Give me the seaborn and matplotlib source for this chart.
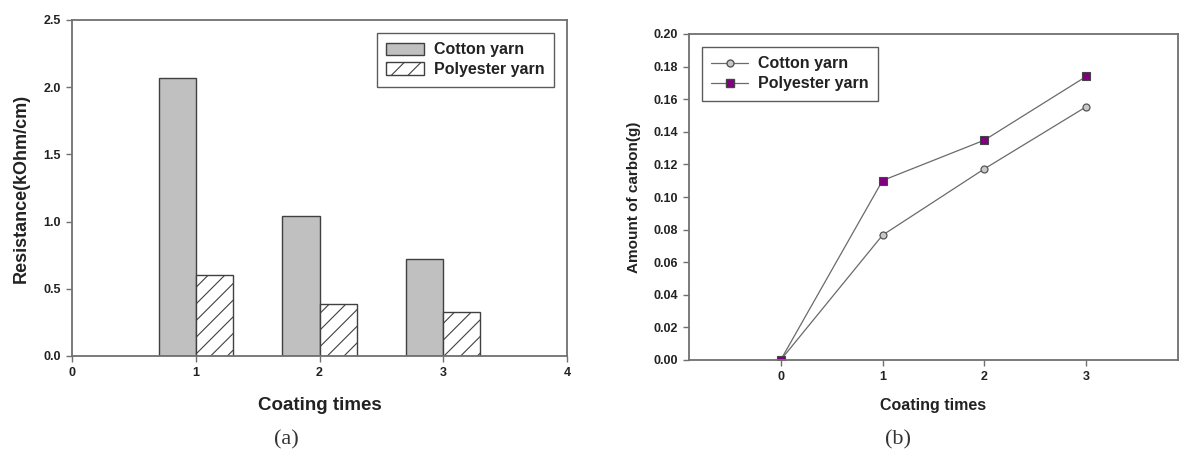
import numpy as np
import pandas as pd
import matplotlib
matplotlib.use("Agg")
import matplotlib.pyplot as plt
import seaborn as sns
from matplotlib.patches import Patch
from matplotlib.lines import Line2D

# data
coating = [1, 2, 3]
cotton_res = [2.07, 1.04, 0.72]
poly_res = [0.60, 0.385, 0.325]

coating_b = [0, 1, 2, 3]
cotton_carbon = [0.0, 0.0766, 0.1173, 0.1554]
poly_carbon = [0.0, 0.1101, 0.1349, 0.174]

sns.set_style("white")
plt.rcParams['font.family'] = ['Liberation Sans', 'DejaVu Sans']
plt.rcParams['hatch.color'] = '#555555'
plt.rcParams['hatch.linewidth'] = 0.8

txt = '#222222'
spine_c = '#707070'

fig = plt.figure(figsize=(11.88, 4.62), dpi=100)
ax1 = fig.add_axes([72/1188, 1-356/462, (567-72)/1188, (356-20)/462])
ax2 = fig.add_axes([689/1188, 1-360/462, (1178-689)/1188, (360-34)/462])

# (a) bar chart
df = pd.DataFrame({
    'coating': coating * 2,
    'res': cotton_res + poly_res,
    'yarn': ['Cotton yarn'] * 3 + ['Polyester yarn'] * 3,
})
sns.barplot(data=df, x='coating', y='res', hue='yarn', native_scale=True,
            width=0.6, gap=0, palette=['#c0c0c0', 'white'],
            edgecolor='#404040', linewidth=1.0, saturation=1,
            ax=ax1, legend=False)
for p in ax1.patches[3:6]:
    p.set_hatch('//')
ax1.set_xlim(0, 4)
ax1.set_ylim(0, 2.5)
ax1.set_xticks([0, 1, 2, 3, 4])
ax1.set_yticks([0, 0.5, 1.0, 1.5, 2.0, 2.5])
ax1.set_yticklabels(['0.0', '0.5', '1.0', '1.5', '2.0', '2.5'])
ax1.set_xlabel('Coating times', fontsize=13.5, fontweight='bold', color=txt, labelpad=13)
ax1.set_ylabel('Resistance(kOhm/cm)', fontsize=13, fontweight='bold', color=txt, labelpad=10)
h1 = [Patch(facecolor='#c0c0c0', edgecolor='#404040', label='Cotton yarn'),
      Patch(facecolor='white', edgecolor='#404040', hatch='//', label='Polyester yarn')]
leg1 = ax1.legend(handles=h1, loc='upper right', fontsize=11.5, frameon=True,
                  fancybox=False, edgecolor='#333333', borderaxespad=0.8,
                  handlelength=2.4, handleheight=0.8, handletextpad=0.6,
                  borderpad=0.6, labelspacing=0.3)
leg1.get_frame().set_linewidth(1.0)
for t in leg1.get_texts():
    t.set_fontweight('bold')
    t.set_color(txt)

# (b) line chart
sns.lineplot(x=coating_b, y=cotton_carbon, ax=ax2, color='#6a6a6a', lw=0.9,
             marker='o', markersize=5, markerfacecolor='#c8c8c8',
             markeredgecolor='#555555', markeredgewidth=0.9)
sns.lineplot(x=coating_b, y=poly_carbon, ax=ax2, color='#6a6a6a', lw=0.9,
             marker='s', markersize=5.5, markerfacecolor='#800080',
             markeredgecolor='#444444', markeredgewidth=0.8)
ax2.set_xlim(-0.9, 3.9)
ax2.set_ylim(0, 0.2)
ax2.set_xticks([0, 1, 2, 3])
ax2.set_yticks(np.arange(0, 0.201, 0.02))
ax2.set_yticklabels(['%.2f' % v for v in np.arange(0, 0.201, 0.02)])
ax2.set_xlabel('Coating times', fontsize=11.5, fontweight='bold', color=txt, labelpad=11)
ax2.set_ylabel('Amount of carbon(g)', fontsize=11, fontweight='bold', color=txt, labelpad=9)
h2 = [Line2D([], [], color='#6a6a6a', lw=0.9, marker='o', markersize=5,
             markerfacecolor='#c8c8c8', markeredgecolor='#555555', label='Cotton yarn'),
      Line2D([], [], color='#6a6a6a', lw=0.9, marker='s', markersize=5.5,
             markerfacecolor='#800080', markeredgecolor='#444444', label='Polyester yarn')]
leg2 = ax2.legend(handles=h2, loc='upper left', fontsize=11.5, frameon=True,
                  fancybox=False, edgecolor='#333333', borderaxespad=0.8,
                  handlelength=2.3, handletextpad=0.6, borderpad=0.6,
                  labelspacing=0.3)
leg2.get_frame().set_linewidth(1.0)
for t in leg2.get_texts():
    t.set_fontweight('bold')
    t.set_color(txt)

for ax in (ax1, ax2):
    for s in ax.spines.values():
        s.set_visible(True)
        s.set_color(spine_c)
        s.set_linewidth(1.3)
    ax.tick_params(axis='both', direction='out', length=4, width=1,
                   color=spine_c, labelsize=9, labelcolor=txt, pad=4,
                   bottom=True, left=True)
    for lab in ax.get_xticklabels() + ax.get_yticklabels():
        lab.set_fontweight('bold')

fig.text(286/1188, 1-440/462, '(a)', fontsize=16, family='Liberation Serif',
         ha='center', va='center', color='#333333')
fig.text(898/1188, 1-440/462, '(b)', fontsize=16, family='Liberation Serif',
         ha='center', va='center', color='#333333')

fig.savefig('out.png', dpi=100)
